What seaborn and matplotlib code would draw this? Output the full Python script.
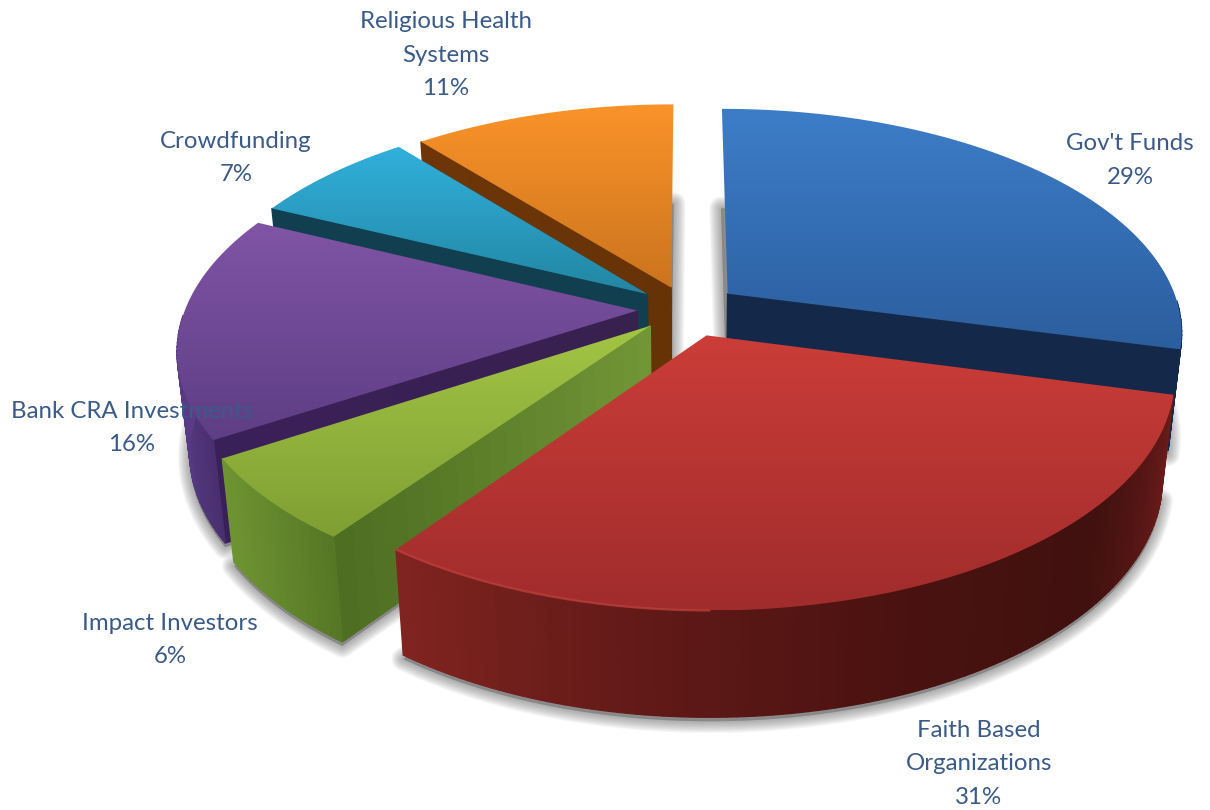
import numpy as np
import matplotlib
matplotlib.use("Agg")
import matplotlib.pyplot as plt
import seaborn as sns
from matplotlib.patches import Polygon

# Funding mix, clockwise from twelve o'clock
categories = ["Gov't Funds", "Faith Based\nOrganizations", "Impact Investors",
              "Bank CRA Investments", "Crowdfunding", "Religious Health\nSystems"]
shares = [29, 31, 6, 16, 7, 11]

# Styling per slice
top_stops = [("#3D7DC8", "#2B5E9E"), ("#CB3D38", "#A02C2C"), ("#A3C545", "#7F9F33"),
             ("#8054A6", "#5E3E84"), ("#31B0DC", "#2286A3"), ("#FA9329", "#CB741E")]
wall_stops = [("#14294A", "#14294A"),
              ("#6E1C1A", "#40110F", "#4A1210", "#621A18", "#802420"),
              ("#567826", "#64882C", "#6E9432"),
              ("#4A2F70", "#563A82", "#5B3B86"),
              ("#123F4F", "#123F4F"), ("#683408", "#683408")]
cut_stops = [("#14294A", "#14294A"), ("#4A1210", "#4A1210"), ("#719636", "#4E6E22"),
             ("#38204F", "#3A2058"), ("#123F4F", "#123F4F"), ("#663307", "#6E3608")]
explode = [0.115, 0.125, 0.11, 0.11, 0.112, 0.105]
draw_order = [0, 5, 4, 3, 2, 1]
label_xy = [(1130, 160.5), (979, 764), (170, 640), (132, 428), (236, 158), (446, 55)]
text_color = "#3A5A88"

# Camera model of the disc
CX, CY = 687.0, 309.0
RX, RY = 452.0, 220.0
PERSP = 0.165
DEPTH = 100.0
SHRINK = 0.025

sns.set_theme(style="white")
plt.rcParams["font.family"] = ["Lato", "DejaVu Sans"]


def project(x, y, z=0.0):
    """Map disc coordinates to canvas pixels; z=1 is the underside."""
    x, y = np.asarray(x, float), np.asarray(y, float)
    s = 1.0 / (1.0 + PERSP * y)
    q = s * (1.0 - SHRINK * z)
    return CX + RX * x * q, CY - RY * y * s + DEPTH * z * (1.0 + 0.3 * (s - 1.0))


fig = plt.figure(figsize=(12.1, 8.1), dpi=100, facecolor="white")
ax = fig.add_axes([0, 0, 1, 1])

edges = np.cumsum([0] + shares) / sum(shares) * 2 * np.pi
layer = [10]


def quad(px0, py0, px1, py1, qx1, qy1, qx0, qy0, color):
    layer[0] += 1
    ax.fill([px0, px1, qx1, qx0], [py0, py1, qy1, qy0], color=color, lw=1.0,
            zorder=layer[0])


def slice_geometry(i):
    a0, a1 = edges[i], edges[i + 1]
    mid = 0.5 * (a0 + a1)
    ox, oy = explode[i] * np.sin(mid), explode[i] * np.cos(mid)
    arc = np.linspace(a0, a1, max(24, int((a1 - a0) * 60)))
    return a0, a1, ox, oy, arc


# Soft contact shadow built from stacked translucent outlines of each underside
for i in draw_order:
    a0, a1, ox, oy, arc = slice_geometry(i)
    xs = np.r_[ox, ox + np.sin(arc)]
    ys = np.r_[oy, oy + np.cos(arc)]
    bx, by = project(xs, ys, 1.0)
    for lw in np.linspace(17, 2, 11):
        ax.add_patch(Polygon(np.c_[bx, by + 4], closed=True, fc=(0.35, 0.35, 0.35, 0.05),
                             ec=(0.35, 0.35, 0.35, 0.05), lw=lw, joinstyle="round", zorder=2))

for i in draw_order:
    a0, a1, ox, oy, arc = slice_geometry(i)
    rx, ry = ox + np.sin(arc), oy + np.cos(arc)
    tx, ty = project(rx, ry, 0.0)

    # Radial cut faces that turn towards the viewer
    cut_pal = sns.blend_palette(cut_stops[i], 20)
    for ang, facing in ((a0, np.sin(a0) < -1e-6), (a1, np.sin(a1) > 1e-6)):
        if not facing:
            continue
        t = np.linspace(0, 1, 21)
        cx_, cy_ = ox + t * np.sin(ang), oy + t * np.cos(ang)
        tx2, ty2 = project(cx_, cy_, 0.0)
        bx2, by2 = project(cx_, cy_, 1.0)
        for j in range(20):
            quad(tx2[j], ty2[j], tx2[j + 1], ty2[j + 1], bx2[j + 1], by2[j + 1], bx2[j], by2[j],
                 cut_pal[j])

    # Rim wall on the near side of the disc, shaded along the arc
    near = np.cos(arc) < -0.02
    if near.sum() > 1:
        nx, ny = rx[near], ry[near]
        ntx, nty = project(nx, ny, 0.0)
        nbx, nby = project(nx, ny, 1.0)
        wall = sns.blend_palette(wall_stops[i], len(nx) - 1)
        for j in range(len(nx) - 1):
            quad(ntx[j], nty[j], ntx[j + 1], nty[j + 1], nbx[j + 1], nby[j + 1], nbx[j], nby[j],
                 wall[j])

    # Top face with a vertical light gradient
    layer[0] += 1
    fx, fy = project(np.r_[ox, rx], np.r_[oy, ry], 0.0)
    outline = Polygon(np.c_[fx, fy], closed=True, fc="none", ec="none", zorder=layer[0])
    ax.add_patch(outline)
    cmap = sns.blend_palette(top_stops[i], as_cmap=True)
    grad = np.linspace(0, 1, 256)[:, None]
    im = ax.imshow(grad, cmap=cmap, aspect="auto", origin="upper",
                   extent=[fx.min(), fx.max(), fy.max(), fy.min()], zorder=layer[0])
    im.set_clip_path(outline)

    # Lit front edge on the large slice
    if i == 1:
        layer[0] += 1
        lit = arc >= np.radians(180)
        ax.plot(tx[lit], ty[lit], color="#C0403C", lw=1.6, alpha=0.75,
                solid_capstyle="round", zorder=layer[0])

ax.set_xlim(0, 1210)
ax.set_ylim(810, 0)
ax.axis("off")

for name, share, (lx, ly) in zip(categories, shares, label_xy):
    ax.text(lx, ly, f"{name}\n{share}%", ha="center", va="center", fontsize=17.3,
            color=text_color, linespacing=1.75, zorder=1000)

fig.savefig("out.png", dpi=100, facecolor="white")
